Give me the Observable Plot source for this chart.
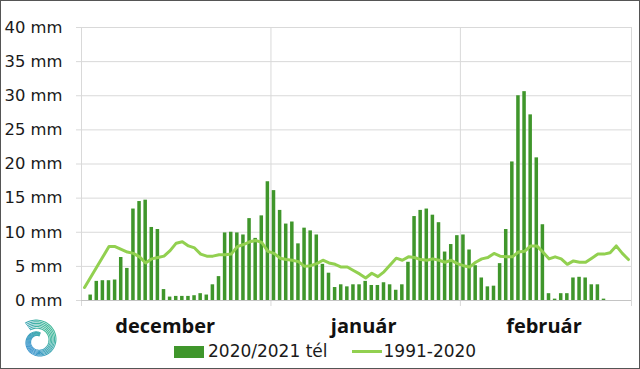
<!DOCTYPE html>
<html>
<head>
<meta charset="utf-8">
<script src="https://cdn.jsdelivr.net/npm/d3@7"></script>
<script src="https://cdn.jsdelivr.net/npm/@observablehq/plot@0.6"></script>
<style>
  html, body { margin: 0; padding: 0; background: #fff; }
  #wrap { position: relative; width: 640px; height: 369px; overflow: hidden; font-family: "DejaVu Sans", sans-serif; }
  #frame { position: absolute; left: 0; top: 0; width: 640px; height: 369px; box-sizing: border-box; border: 1px solid #555; pointer-events: none; }
  #legend { position: absolute; left: 174px; top: 340px; display: flex; align-items: center; font-size: 17px; color: #1a1a1a; line-height: 23px; }
  .sw-bar { width: 30px; height: 12px; background: #3f962b; margin-right: 4px; }
  .sw-line { width: 30px; height: 3px; background: #92d050; margin-left: 24px; margin-right: 2px; }
  #logo { position: absolute; left: 13px; top: 316px; }
</style>
</head>
<body>
<div id="wrap">
  <div id="chart"></div>
  <div id="legend"></div>
  <svg id="logo" width="54" height="54"></svg>
  <div id="frame"></div>
</div>
<script>
// Daily precipitation, winter 2020/2021 (mm)
const decBars = [0, 0.8, 2.8, 2.9, 2.9, 3.0, 6.3, 4.7, 13.4, 14.5, 14.7, 10.7, 10.4, 1.6, 0.5, 0.6, 0.6, 0.6, 0.7, 1.0, 0.8, 2.3, 3.5, 9.9, 10.0, 9.9, 9.6, 12.0, 9.1, 12.4, 17.4];
const janBars = [16.1, 13.2, 11.2, 11.5, 8.3, 10.6, 10.2, 9.6, 5.3, 4.0, 1.9, 2.3, 2.0, 2.3, 2.3, 2.8, 2.2, 2.2, 2.6, 2.3, 1.5, 2.3, 5.6, 12.3, 13.2, 13.4, 12.5, 11.4, 7.1, 8.2, 9.5];
const febBars = [9.6, 7.4, 5.1, 3.3, 2.0, 2.1, 5.4, 10.4, 20.3, 30.0, 30.6, 27.2, 20.9, 11.1, 1.0, 0.2, 1.0, 1.0, 3.3, 3.4, 3.3, 2.3, 2.3, 0.2, 0, 0, 0, 0];
// 1991-2020 daily normal (mm)
const decNorm = [1.9, 3.4, 4.9, 6.4, 7.9, 7.9, 7.5, 7.1, 6.9, 6.4, 5.5, 6.1, 6.3, 6.5, 7.3, 8.4, 8.6, 8.0, 7.7, 6.8, 6.5, 6.5, 6.7, 6.7, 6.8, 7.9, 8.2, 8.6, 8.8, 8.5, 7.2];
const janNorm = [6.9, 6.2, 6.0, 5.9, 5.7, 5.0, 5.1, 5.4, 5.9, 5.5, 5.3, 4.9, 4.9, 4.4, 3.9, 3.3, 4.0, 3.5, 4.2, 5.2, 6.2, 5.9, 6.4, 6.3, 6.0, 5.9, 6.1, 5.9, 5.6, 5.9, 5.4];
const febNorm = [5.1, 4.9, 5.6, 6.1, 6.3, 6.9, 6.5, 6.4, 6.4, 7.1, 7.2, 8.0, 8.0, 7.1, 6.1, 6.4, 6.1, 5.3, 5.8, 5.6, 5.6, 6.2, 6.8, 6.8, 7.0, 8.0, 6.9, 6.0];
const monthNames = ["december", "január", "február"];
const monthStarts = ["2020-12-01", "2021-01-01", "2021-02-01", "2021-03-01"];
const yTicks = [0, 5, 10, 15, 20, 25, 30, 35, 40];
const seriesNames = ["2020/2021 tél", "1991-2020"];

const DAY = 864e5;
const start = new Date(monthStarts[0]);
const barsAll = [...decBars, ...janBars, ...febBars];
const normAll = [...decNorm, ...janNorm, ...febNorm];
const days = barsAll.map((v, i) => ({
  date: new Date(+start + i * DAY),
  value: v,
  norm: normAll[i]
}));
const bounds = monthStarts.map(s => new Date(s));
const months = monthNames.map((name, i) => ({
  name,
  mid: new Date((+bounds[i] + +bounds[i + 1]) / 2)
}));

const barColor = "#3f962b";
const lineColor = "#92d050";
const gridColor = "#d9d9d9";

const chart = Plot.plot({
  width: 640,
  height: 340,
  marginLeft: 81,
  marginRight: 9,
  marginTop: 27,
  marginBottom: 40,
  style: { fontFamily: "DejaVu Sans, sans-serif", fontSize: "16.4px", color: "#1a1a1a", background: "transparent" },
  x: { type: "utc", domain: [bounds[0], bounds[3]], axis: null },
  y: { domain: [0, 40], axis: null },
  marks: [
    Plot.ruleY(yTicks, { stroke: gridColor, strokeWidth: 1 }),
    Plot.ruleX(bounds, { stroke: gridColor, strokeWidth: 1, insetBottom: -6 }),
    Plot.axisY({ ticks: yTicks, tickFormat: d => d + " mm", tickSize: 5, tickPadding: 14, stroke: gridColor, fill: "#1a1a1a", fontSize: 16.4, label: null }),
    Plot.rectY(days, {
      x1: "date",
      x2: d => d3.utcDay.offset(d.date, 1),
      y: "value",
      fill: barColor,
      insetLeft: 1.3,
      insetRight: 1.3
    }),
    Plot.line(days, {
      x: d => new Date(+d.date + DAY / 2),
      y: "norm",
      stroke: lineColor,
      strokeWidth: 3,
      strokeLinejoin: "round"
    }),
    Plot.ruleY([0], { stroke: "#c4c4c4" }),
    Plot.text(months.slice(0, 1), { x: "mid", y: () => 0, text: "name", dy: 26, dx: -11, fontFamily: "Open Sans, sans-serif", fontWeight: "bold", fontSize: 20, fill: "#111" }),
    Plot.text(months.slice(1), { x: "mid", y: () => 0, text: "name", dy: 26, dx: -2, fontFamily: "Open Sans, sans-serif", fontWeight: "bold", fontSize: 20, fill: "#111" })
  ]
});
document.getElementById("chart").appendChild(chart);

// Legend
const legend = document.getElementById("legend");
legend.innerHTML =
  `<div class="sw-bar"></div><span>${seriesNames[0]}</span>` +
  `<div class="sw-line"></div><span>${seriesNames[1]}</span>`;

// Logo (decorative swirl)
const logo = d3.select("#logo");
const grad = logo.append("defs").append("linearGradient")
  .attr("id", "lg").attr("x1", "1").attr("y1", "0").attr("x2", "0").attr("y2", "1");
grad.append("stop").attr("offset", "0").attr("stop-color", "#47c28f");
grad.append("stop").attr("offset", "1").attr("stop-color", "#3a8fd6");
const cx = 25, cy = 25;
for (let k = 0; k < 6; k++) {
  const pts = [];
  for (let t = 0; t <= 1.0001; t += 0.01) {
    const th = -2.2 + t * 2 * Math.PI * 1.15;
    const r = (22 - k * 1.7) * (1 - 0.62 * t);
    pts.push([cx + r * Math.cos(th), cy + r * Math.sin(th)]);
  }
  logo.append("path")
    .attr("d", d3.line()(pts))
    .attr("fill", "none")
    .attr("stroke", "url(#lg)")
    .attr("stroke-width", 1.1);
}
</script>
</body>
</html>
